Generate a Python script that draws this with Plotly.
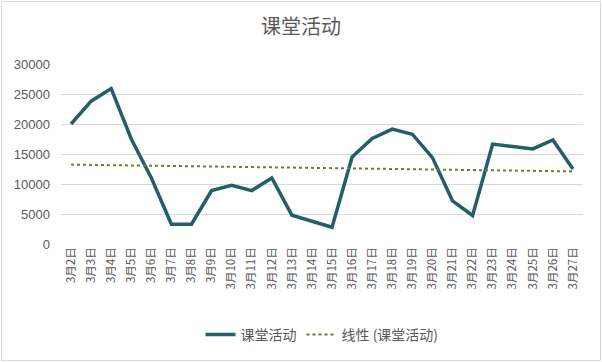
import numpy as np
import plotly.graph_objects as go

categories = [f"3月{d}日" for d in range(2, 28)]
values = [20000, 23800, 25900, 17500, 11000, 3300, 3300, 8900, 9800, 8900,
          11000, 4800, 3800, 2800, 14500, 17600, 19150, 18300, 14400, 7200,
          4750, 16650, 16250, 15850, 17350, 12500]
y_ticks = [0, 5000, 10000, 15000, 20000, 25000, 30000]

series_name = "课堂活动"
trend_name = "线性 (课堂活动)"

xi = np.arange(len(values))
slope, intercept = np.polyfit(xi, values, 1)
trend = list(slope * xi + intercept)

W, H = 602, 362
ml, mr, mt, mb = 61, 19, 64, 118
pw = W - ml - mr
ph = H - mt - mb

fig = go.Figure()
fig.add_trace(go.Scatter(x=categories, y=values, mode="lines", name=series_name,
                         line=dict(color="#255E6B", width=3.5)))
fig.add_trace(go.Scatter(x=categories, y=trend, mode="lines", name=trend_name,
                         line=dict(color="#6B7F32", width=2, dash="dot")))

fig.add_shape(type="rect", xref="paper", yref="paper",
              x0=(1.5 - ml) / pw, x1=(W - 1.5 - ml) / pw,
              y0=-(mb - 1.5) / ph, y1=1 + (mt - 1.5) / ph,
              line=dict(color="#D9D9D9", width=1), fillcolor="rgba(0,0,0,0)",
              layer="above")

fig.update_layout(
    width=W, height=H,
    margin=dict(l=ml, r=mr, t=mt, b=mb, autoexpand=False),
    paper_bgcolor="white", plot_bgcolor="white",
    font=dict(family="Noto Sans CJK SC, Liberation Sans, sans-serif", color="#595959"),
    title=dict(text="课堂活动", x=0.5, xanchor="center", y=1 - 27 / H, yanchor="middle",
               font=dict(size=20, color="#595959")),
    xaxis=dict(type="category", range=[-0.5, len(categories) - 0.5], tickangle=-90,
               showgrid=False, showline=False, ticks="", automargin=False,
               tickfont=dict(size=11.5, color="#595959")),
    yaxis=dict(range=[0, 30000], tickvals=y_ticks, ticktext=[str(v) for v in y_ticks],
               showgrid=True, gridcolor="#D9D9D9", gridwidth=1, zeroline=False,
               ticks="", ticklabelstandoff=10, automargin=False,
               tickfont=dict(size=13, color="#595959", family="Liberation Sans, sans-serif")),
    legend=dict(orientation="h", x=0.5, xanchor="center", y=-(335 - 244) / ph,
                yanchor="middle", font=dict(size=14, color="#595959"),
                traceorder="normal"),
    showlegend=True,
)

fig.write_html("out.html", config={"displayModeBar": False},
               post_script="document.body.style.margin='0';")
